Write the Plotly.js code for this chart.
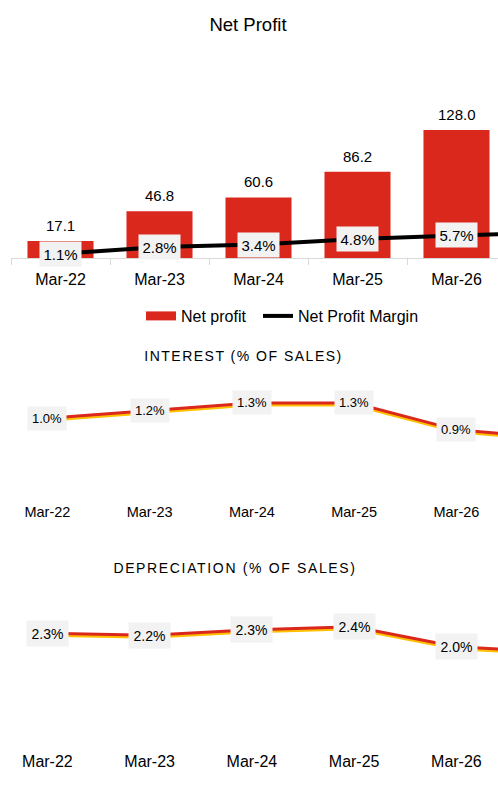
<!DOCTYPE html>
<html>
<head>
<meta charset="utf-8">
<script src="https://cdn.plot.ly/plotly-3.0.1.min.js"></script>
<style>
  html, body { margin: 0; padding: 0; background: #fff; }
  #chart { width: 498px; height: 789px; }
  .annotation[data-index="0"] text { letter-spacing: 1.5px; }
  .annotation[data-index="1"] text { letter-spacing: 1.65px; }
</style>
</head>
<body>
<div id="chart"></div>
<script>
// ---- data ----
const categories = ['Mar-22', 'Mar-23', 'Mar-24', 'Mar-25', 'Mar-26', 'Mar-27'];
const netProfit = [17.1, 46.8, 60.6, 86.2, 128.0, null];
const netProfitMargin = [1.1, 2.8, 3.4, 4.8, 5.7, 6.4];
const interestPct = [1.04, 1.16, 1.28, 1.28, 0.86, 0.73];
const depreciationPct = [2.26, 2.22, 2.33, 2.39, 1.99, 1.88];
const visibleCount = 5;

// ---- style ----
const RED = '#DA291C';
const YELLOW = '#FFC000';
const FONT = 'Liberation Sans, Arial, sans-serif';
const H = 789, W = 498;
const py = px => 1 - px / H; // pixel row -> paper fraction

const traces = [
  { type: 'bar', x: categories, y: netProfit, xaxis: 'x', yaxis: 'y',
    marker: { color: RED }, showlegend: false, hoverinfo: 'skip' },
  { type: 'scatter', mode: 'lines', x: categories, y: netProfitMargin, xaxis: 'x', yaxis: 'y2',
    line: { color: '#000', width: 4 }, showlegend: false, hoverinfo: 'skip' },
  // legend proxies
  { type: 'scatter', mode: 'lines', x: [null], y: [null], xaxis: 'x', yaxis: 'y',
    name: 'Net profit', line: { color: RED, width: 9 }, legend: 'legend' },
  { type: 'scatter', mode: 'lines', x: [null], y: [null], xaxis: 'x', yaxis: 'y2',
    name: 'Net Profit Margin', line: { color: '#000', width: 4 }, legend: 'legend2' },
  // interest
  { type: 'scatter', mode: 'lines', x: categories, y: interestPct, xaxis: 'x2', yaxis: 'y3',
    line: { color: YELLOW, width: 3 }, showlegend: false, hoverinfo: 'skip' },
  { type: 'scatter', mode: 'lines', x: categories, y: interestPct, xaxis: 'x2', yaxis: 'y4',
    line: { color: RED, width: 3 }, showlegend: false, hoverinfo: 'skip' },
  // depreciation
  { type: 'scatter', mode: 'lines', x: categories, y: depreciationPct, xaxis: 'x3', yaxis: 'y5',
    line: { color: YELLOW, width: 3 }, showlegend: false, hoverinfo: 'skip' },
  { type: 'scatter', mode: 'lines', x: categories, y: depreciationPct, xaxis: 'x3', yaxis: 'y6',
    line: { color: RED, width: 3 }, showlegend: false, hoverinfo: 'skip' }
];

const annotations = [
  { text: 'INTEREST (% OF SALES)', xref: 'paper', yref: 'paper', x: 243.5 / W, y: py(356),
    xanchor: 'center', yanchor: 'middle', showarrow: false, font: { family: FONT, size: 14, color: '#000' } },
  { text: 'DEPRECIATION (% OF SALES)', xref: 'paper', yref: 'paper', x: 234.7 / W, y: py(568.3),
    xanchor: 'center', yanchor: 'middle', showarrow: false, font: { family: FONT, size: 14, color: '#000' } }
];

for (let i = 0; i < visibleCount; i++) {
  annotations.push({ text: netProfit[i].toFixed(1), xref: 'x', yref: 'y', x: categories[i], y: netProfit[i],
    yanchor: 'bottom', yshift: 5, showarrow: false, font: { family: FONT, size: 15, color: '#000' } });
  annotations.push({ text: netProfitMargin[i].toFixed(1) + '%', xref: 'x', yref: 'y2', x: categories[i], y: netProfitMargin[i],
    showarrow: false, bgcolor: '#F2F2F2', borderpad: 3.5, font: { family: FONT, size: 15, color: '#000' } });
  annotations.push({ text: interestPct[i].toFixed(1) + '%', xref: 'x2', yref: 'y4', x: categories[i], y: interestPct[i],
    showarrow: false, bgcolor: '#F2F2F2', borderpad: 4, font: { family: FONT, size: 13, color: '#000' } });
  annotations.push({ text: depreciationPct[i].toFixed(1) + '%', xref: 'x3', yref: 'y6', x: categories[i], y: depreciationPct[i],
    showarrow: false, bgcolor: '#F2F2F2', borderpad: 4.5, font: { family: FONT, size: 14, color: '#000' } });
}

const hidden = { showgrid: false, zeroline: false, showticklabels: false, showline: false, ticks: '', fixedrange: true };
const lineXRange = [-47.4 / 102.25, (W - 47.4) / 102.25];
const legendBase = { orientation: 'h', xanchor: 'left', y: py(299), yanchor: 'top',
  font: { family: FONT, size: 16, color: '#000' }, itemwidth: 30, bgcolor: 'rgba(0,0,0,0)' };

const layout = {
  width: W, height: H,
  margin: { l: 0, r: 0, t: 0, b: 0, pad: 0 },
  paper_bgcolor: '#fff', plot_bgcolor: 'rgba(0,0,0,0)',
  font: { family: FONT, color: '#000' },
  title: { text: 'Net Profit', x: 248 / W, xanchor: 'center', y: py(25), yanchor: 'middle',
    font: { family: FONT, size: 18.5, color: '#000' } },
  bargap: 0.333,
  showlegend: true,
  legend: Object.assign({}, legendBase, { x: 141 / W }),
  legend2: Object.assign({}, legendBase, { x: 258 / W }),
  xaxis: { type: 'category', domain: [11 / W, 1], range: [-0.5, -0.5 + (W - 11) / 99], anchor: 'y',
    showline: true, linecolor: '#D9D9D9', linewidth: 1, ticks: 'outside', tickson: 'boundaries',
    ticklen: 6, tickcolor: '#D9D9D9', tickwidth: 1, ticklabelstandoff: 7,
    tickfont: { family: FONT, size: 16, color: '#000' }, showgrid: false, zeroline: false, fixedrange: true },
  yaxis: Object.assign({}, hidden, { domain: [py(258), py(90)], range: [0, 168] }),
  yaxis2: Object.assign({}, hidden, { overlaying: 'y', range: [0, 168 / 3.96] }),
  xaxis2: { type: 'category', domain: [0, 1], range: lineXRange, anchor: 'free', position: py(501),
    showline: false, ticks: '', showgrid: false, zeroline: false, fixedrange: true,
    tickfont: { family: FONT, size: 14.5, color: '#000' } },
  yaxis3: Object.assign({}, hidden, { anchor: 'x2', domain: [py(499), py(377)], range: [(484.9 - 497) / 64, (484.9 - 375) / 64] }),
  yaxis4: Object.assign({}, hidden, { anchor: 'x2', domain: [py(497), py(375)], range: [(484.9 - 497) / 64, (484.9 - 375) / 64] }),
  xaxis3: { type: 'category', domain: [0, 1], range: lineXRange, anchor: 'free', position: py(750),
    showline: false, ticks: '', showgrid: false, zeroline: false, fixedrange: true,
    tickfont: { family: FONT, size: 16, color: '#000' } },
  yaxis5: Object.assign({}, hidden, { anchor: 'x3', domain: [py(747), py(592)], range: [(746.3 - 745) / 50, (746.3 - 590) / 50] }),
  yaxis6: Object.assign({}, hidden, { anchor: 'x3', domain: [py(745), py(590)], range: [(746.3 - 745) / 50, (746.3 - 590) / 50] }),
  annotations: annotations
};

Plotly.newPlot('chart', traces, layout, { displayModeBar: false, staticPlot: true });
</script>
</body>
</html>
